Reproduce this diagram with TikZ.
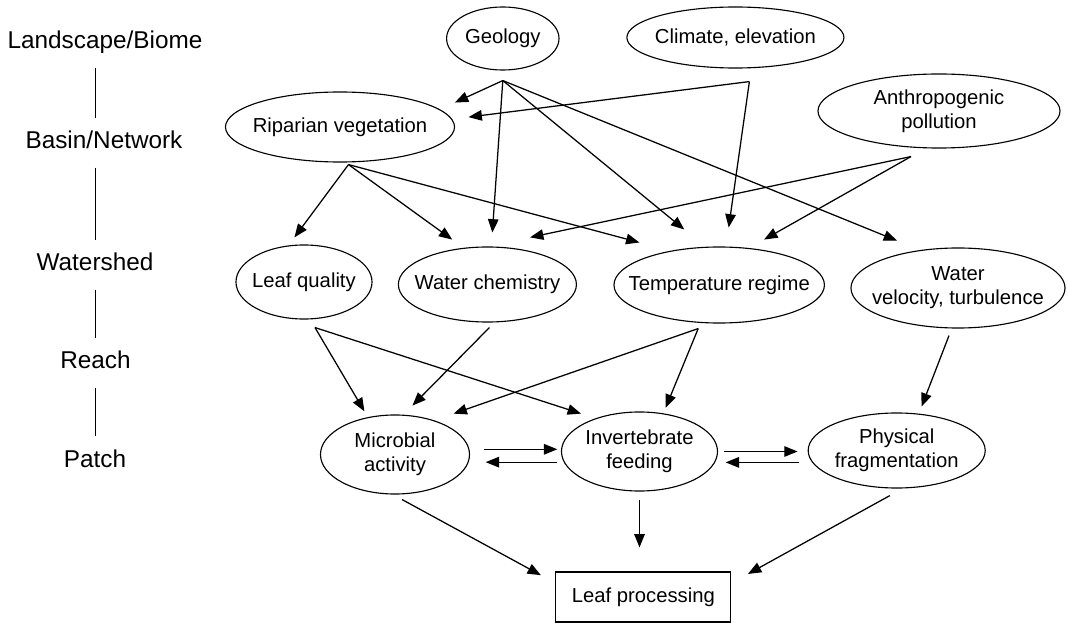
\documentclass[tikz,border=0pt]{standalone}
\usepackage{fontspec}
\setmainfont{Liberation Sans}
\usetikzlibrary{arrows.meta, shapes.geometric, calc}

\begin{document}
\begin{tikzpicture}[
    x=0.025cm, y=-0.025cm,
    factor/.style={ellipse, draw, line width=0.8pt, inner xsep=-14pt, inner ysep=2pt, align=center, font=\fontsize{14.4}{17}\selectfont},
    outcome/.style={rectangle, draw, line width=0.8pt, minimum width=4.375cm, minimum height=1.25cm, font=\fontsize{14.4}{17}\selectfont},
    tierlabel/.style={anchor=base, inner sep=0pt, text height=12.6pt, text depth=3.6pt, font=\fontsize{17.3}{20}\selectfont},
    tierline/.style={line width=0.8pt, shorten <=0.33cm, shorten >=0.33cm},
    link/.style={-{Triangle[length=9.5pt, width=7.5pt]}, line width=0.9pt}
]
\useasboundingbox (0,0) rectangle (1068,623);
% spatial scales
\node[tierlabel] (landscape) at (105,49) {Landscape/Biome};
\node[tierlabel] (basin) at (104,149) {Basin/Network};
\node[tierlabel] (watershed) at (95,271) {Watershed};
\node[tierlabel] (reach) at (95.5,369) {Reach};
\node[tierlabel] (patch) at (95,467) {Patch};
\foreach \a/\b in {landscape/basin, basin/watershed, watershed/reach, reach/patch} {
    \draw[tierline] (\a.south -| reach) -- (\b.north -| reach);
}
% factors
\node[factor, minimum width=2.81cm, minimum height=1.575cm] (geo) at (502.8,38.5) {Geology};
\node[factor, minimum width=5.425cm, minimum height=1.525cm] (climate) at (735.4,37.5) {Climate, elevation};
\node[factor, minimum width=5.725cm, minimum height=1.75cm] (riparian) at (340,127) {Riparian vegetation};
\node[factor, minimum width=6.05cm, minimum height=1.85cm] (anthro) at (939,111) {Anthropogenic\\pollution};
\node[factor, minimum width=3.4cm, minimum height=1.85cm] (leafq) at (304,282) {Leaf quality};
\node[factor, minimum width=4.45cm, minimum height=1.875cm] (chem) at (487.4,284.5) {Water chemistry};
\node[factor, minimum width=5.26cm, minimum height=1.9cm] (temp) at (719.2,285) {Temperature regime};
\node[factor, minimum width=5.35cm, minimum height=2cm] (vel) at (958,288) {Water\\velocity, turbulence};
\node[factor, minimum width=3.725cm, minimum height=1.975cm] (micro) at (395,454.5) {Microbial\\activity};
\node[factor, minimum width=3.9cm, minimum height=1.975cm] (invert) at (639.5,451.5) {Invertebrate\\feeding};
\node[factor, minimum width=4.425cm, minimum height=1.875cm] (phys) at (896.7,450.5) {Physical\\fragmentation};
\node[outcome] (leafproc) at (643.4,597) {Leaf processing};
% fan-out points
\coordinate (geo-out) at ($(geo.south)+(0,10)$);
\coordinate (climate-out) at ($(climate.south)+(14,13)$);
\coordinate (riparian-out) at ($(riparian.south)+(8.5,2)$);
\coordinate (anthro-out) at ($(anthro.south)+(-28,8)$);
\coordinate (leafq-out) at ($(leafq.south)+(11,8)$);
\coordinate (chem-out) at ($(chem.south)+(2,5)$);
\coordinate (temp-out) at ($(temp.south)+(-21,5)$);
\coordinate (vel-out) at ($(vel.south)+(-9,7)$);
% influences
\draw[link, shorten >=0.41cm] (geo-out) -- (riparian.10);
\draw[link, shorten >=0.41cm] (climate-out) -- (riparian.4);
\draw[link, shorten >=0.35cm] (geo-out) -- (chem.84);
\draw[link, shorten >=0.68cm] (geo-out) -- (temp.110);
\draw[link, shorten >=0.62cm] (geo-out) -- (vel.135);
\draw[link, shorten >=0.48cm] (climate-out) -- (temp.80);
\draw[link, shorten >=0.25cm] (riparian-out) -- (leafq.113);
\draw[link, shorten >=0.35cm] (riparian-out) -- (chem.123);
\draw[link, shorten >=0.8cm] (riparian-out) -- (temp.145);
\draw[link, shorten >=1.09cm] (anthro-out) -- (chem.north);
\draw[link, shorten >=0.43cm] (anthro-out) -- (temp.51);
\draw[link, shorten >=0.17cm] (leafq-out) -- (micro.126);
\draw[link, shorten >=0.38cm] (leafq-out) -- (invert.143);
\draw[link, shorten >=0.32cm] (chem-out) -- (micro.78);
\draw[link, shorten >=0.51cm] (temp-out) -- (micro.41);
\draw[link, shorten >=0.15cm] (temp-out) -- (invert.58);
\draw[link, shorten >=0.19cm] (vel-out) -- (phys.59);
% patch interactions
\draw[link, shorten <=0.36cm, shorten >=0.09cm] (micro.4) -- (micro.4 -| invert.west);
\draw[link, shorten <=0.16cm, shorten >=0.39cm] (invert.188) -- (invert.188 -| micro.east);
\draw[link, shorten <=0.16cm, shorten >=0.25cm] (invert.east) -- (invert.east -| phys.west);
\draw[link, shorten <=0.32cm, shorten >=0.19cm] (phys.188) -- (phys.188 -| invert.east);
\draw[link, shorten <=0.26cm, shorten >=0.41cm] (micro.-93) -- (leafproc.171);
\draw[link, shorten <=0.2cm, shorten >=0.6cm] (invert.south) -- (invert.south |- leafproc.north);
\draw[link, shorten <=0.37cm, shorten >=0.47cm] (phys.-81) -- (leafproc.9);
\end{tikzpicture}
\end{document}
